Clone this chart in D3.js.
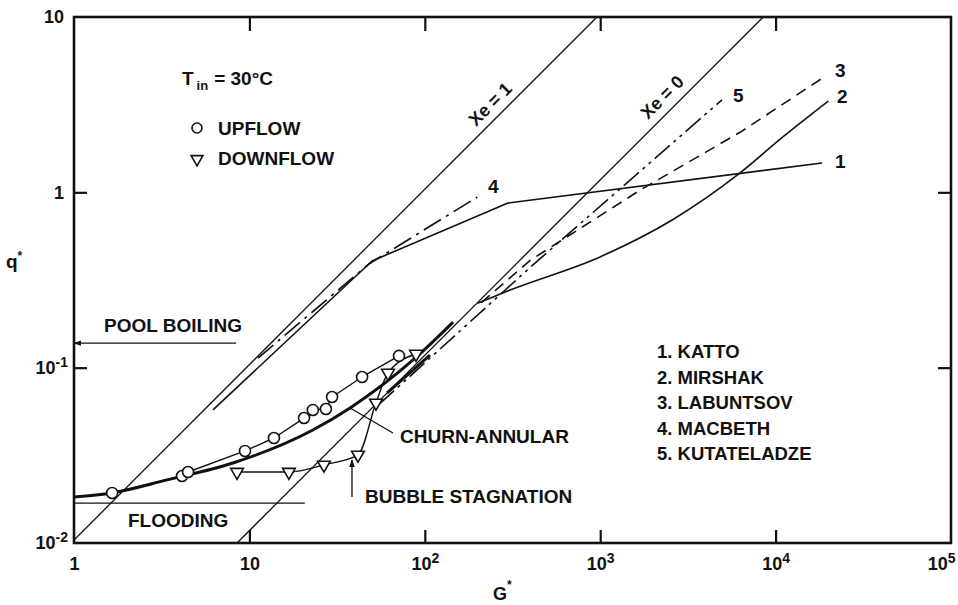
<!DOCTYPE html>
<html>
<head>
<meta charset="utf-8">
<script src="https://cdn.jsdelivr.net/npm/d3@7"></script>
<style>
  body { margin: 0; background: #fff; }
  svg text { font-family: "Liberation Sans", Arial, Helvetica, sans-serif; font-weight: bold; fill: #111; }
</style>
</head>
<body>
<div id="chart"></div>
<script>
// ---- data ----
const xTicks      = [1, 10, 100, 1000, 10000, 100000];
const xTickLabels = [['1', ''], ['10', ''], ['10', '2'], ['10', '3'], ['10', '4'], ['10', '5']];
const yTicks      = [0.01, 0.1, 1, 10];
const yTickLabels = [['10', '-2'], ['10', '-1'], ['1', ''], ['10', '']];

const upflowG   = [1.65, 4.13, 4.47, 9.44, 13.8, 20.5, 23.0, 27.3, 29.6, 43.9, 71.3];
const upflowQ   = [0.0193, 0.0241, 0.0254, 0.0335, 0.0397, 0.0516, 0.0574, 0.0581, 0.068, 0.0885, 0.1167];
const downflowG = [8.5, 16.8, 26.6, 41.6, 52.7, 61.7, 89.1];
const downflowQ = [0.0254, 0.0254, 0.0279, 0.0318, 0.063, 0.0933, 0.1197];

const churnG = [1, 1.65, 3.39, 8.06, 23.0, 37.5, 85.7, 145];
const churnQ = [0.0183, 0.0193, 0.0229, 0.0286, 0.0441, 0.0589, 0.1106, 0.182];

const xe1G = [1, 959];
const xe1Q = [0.0104, 10];
const xe0G = [8.5, 8500];
const xe0Q = [0.01, 10];

const kattoG       = [6.2, 50, 298, 18400];
const kattoQ       = [0.0574, 0.406, 0.87, 1.47];
const mirshakG     = [200, 245, 306, 998, 2600, 6270, 11000, 20000];
const mirshakQ     = [0.233, 0.253, 0.277, 0.428, 0.70, 1.29, 2.07, 3.32];
const labuntsovG   = [210, 400, 1690, 6270, 18600];
const labuntsovQ   = [0.235, 0.41, 1.03, 2.2, 4.5];
const macbethG     = [11.2, 48, 199];
const macbethQ     = [0.1135, 0.39, 0.94];
const kutateladzeG = [55, 414, 4950];
const kutateladzeQ = [0.062, 0.386, 3.37];
const kutaSolidG   = [61, 107];
const kutaSolidQ   = [0.0718, 0.118];

const poolBoilingG = [1, 8.4];
const poolBoilingQ = [0.138, 0.138];
const floodingG    = [1, 20.7];
const floodingQ    = [0.0169, 0.0169];

const correlations = ['1. KATTO', '2. MIRSHAK', '3. LABUNTSOV', '4. MACBETH', '5. KUTATELADZE'];

// ---- layout ----
const W = 958, H = 605;
const X0 = 74, X1 = 951, Y0 = 543, Y1 = 17;
const INK = '#111';

const svg = d3.select('#chart').append('svg')
    .attr('width', W).attr('height', H);

const x = d3.scaleLog().domain([1, 1e5]).range([X0, X1]);
const y = d3.scaleLog().domain([0.01, 10]).range([Y0, Y1]);

const zip = (gs, qs) => gs.map((g, i) => [g, qs[i]]);
const line = d3.line().x(d => x(d[0])).y(d => y(d[1]));
const smooth = d3.line().x(d => x(d[0])).y(d => y(d[1])).curve(d3.curveMonotoneX);

svg.append('defs').append('marker')
    .attr('id', 'arrow').attr('viewBox', '0 0 10 10')
    .attr('refX', 9).attr('refY', 5)
    .attr('markerWidth', 8).attr('markerHeight', 8)
    .attr('markerUnits', 'userSpaceOnUse')
    .attr('orient', 'auto-start-reverse')
    .append('path').attr('d', 'M0,1.5 L10,5 L0,8.5 Z').attr('fill', INK);

const plot = svg.append('g');

function drawLine(data, opts) {
    return plot.append('path')
        .attr('d', (opts.curve ? smooth : line)(data))
        .attr('fill', 'none')
        .attr('stroke', INK)
        .attr('stroke-width', opts.w || 1.5)
        .attr('stroke-dasharray', opts.dash || null)
        .attr('stroke-linejoin', 'round');
}

// reference lines
drawLine(zip(xe1G, xe1Q), { w: 1.3 });
drawLine(zip(xe0G, xe0Q), { w: 1.3 });
drawLine(zip(floodingG, floodingQ), { w: 1.3 });
drawLine(zip(poolBoilingG, poolBoilingQ), { w: 1.3 })
    .attr('marker-start', 'url(#arrow)');

// correlations
drawLine(zip(kattoG, kattoQ), { w: 1.6 });
drawLine(zip(mirshakG, mirshakQ), { w: 1.6, curve: true });
drawLine(zip(labuntsovG, labuntsovQ), { w: 1.6, dash: '11,7' });
drawLine(zip(macbethG, macbethQ), { w: 1.7, dash: '20,6,3,6' });
drawLine(zip(kutateladzeG, kutateladzeQ), { w: 1.6, dash: '20,5,3,5,3,5' });
drawLine(zip(kutaSolidG, kutaSolidQ), { w: 3 });

// churn-annular boundary
drawLine(zip(churnG, churnQ), { w: 3, curve: true });

// experiment series
const up = zip(upflowG, upflowQ);
const down = zip(downflowG, downflowQ);
drawLine(up, { w: 1.4 });
drawLine(down, { w: 1.4, curve: true });

plot.selectAll('.up').data(up).enter().append('circle')
    .attr('class', 'up')
    .attr('cx', d => x(d[0])).attr('cy', d => y(d[1])).attr('r', 5.5)
    .attr('fill', '#fff').attr('stroke', INK).attr('stroke-width', 1.6);

const tri = d3.symbol().type(d3.symbolTriangle).size(70);
plot.selectAll('.down').data(down).enter().append('path')
    .attr('class', 'down')
    .attr('d', tri)
    .attr('transform', d => `translate(${x(d[0])},${y(d[1])}) rotate(180)`)
    .attr('fill', '#fff').attr('stroke', INK).attr('stroke-width', 1.6);

// ---- frame and axes ----
svg.append('rect')
    .attr('x', X0).attr('y', Y1).attr('width', X1 - X0).attr('height', Y0 - Y1)
    .attr('fill', 'none').attr('stroke', INK).attr('stroke-width', 2.6);

function supLabels(g, labels, left) {
    g.selectAll('.tick text').each(function (d, i) {
        const t = d3.select(this).text(null).style('font-size', '18px');
        const [base, exp] = labels[i];
        t.append('tspan').text(base);
        if (exp) t.append('tspan').attr('dy', '-0.5em').style('font-size', '14px').text(exp);
        else if (left) t.attr('dx', -4);
    });
}

const tidy = (g, ends) => {
    g.select('.domain').remove();
    g.selectAll('.tick line').attr('stroke', INK).attr('stroke-width', 2.2);
    g.selectAll('.tick').filter(d => ends.includes(d)).select('line').remove();
};

const gx = svg.append('g').attr('transform', `translate(0,${Y0})`)
    .call(d3.axisBottom(x).tickValues(xTicks).tickSize(-13).tickPadding(14));
tidy(gx, [1, 1e5]);
supLabels(gx, xTickLabels, false);
// last label sits flush against the right edge, as in the figure
gx.selectAll('.tick text').filter(d => d === 1e5)
    .attr('text-anchor', 'end').attr('dx', 4);

const gxTop = svg.append('g').attr('transform', `translate(0,${Y1})`)
    .call(d3.axisTop(x).tickValues(xTicks).tickSize(-14).tickFormat(''));
tidy(gxTop, [1, 1e5]);

const gy = svg.append('g').attr('transform', `translate(${X0},0)`)
    .call(d3.axisLeft(y).tickValues(yTicks).tickSize(-13).tickPadding(6));
tidy(gy, [0.01, 10]);
supLabels(gy, yTickLabels, true);

const gyR = svg.append('g').attr('transform', `translate(${X1},0)`)
    .call(d3.axisRight(y).tickValues(yTicks).tickSize(-13).tickFormat(''));
tidy(gyR, [0.01, 10]);

// axis titles
const gTitle = svg.append('text').attr('x', 493).attr('y', 600).style('font-size', '18px');
gTitle.append('tspan').text('G');
gTitle.append('tspan').attr('dy', -11).style('font-size', '12px').text('*');
const qTitle = svg.append('text').attr('x', 6).attr('y', 268).style('font-size', '19px');
qTitle.append('tspan').text('q');
qTitle.append('tspan').attr('dy', -8).style('font-size', '12px').text('*');

// ---- annotations ----
const ann = svg.append('g').style('font-size', '19px');

const tin = ann.append('text').attr('x', 182).attr('y', 85);
tin.append('tspan').text('T');
tin.append('tspan').attr('dx', 3).attr('dy', 5).style('font-size', '13px').text('in');
tin.append('tspan').attr('dx', 6).attr('dy', -5).text('= 30°C');

ann.append('circle').attr('cx', 197).attr('cy', 128).attr('r', 5)
    .attr('fill', '#fff').attr('stroke', INK).attr('stroke-width', 1.6);
ann.append('text').attr('x', 218).attr('y', 135).text('UPFLOW');
ann.append('path').attr('d', d3.symbol().type(d3.symbolTriangle).size(60))
    .attr('transform', 'translate(197,159) rotate(180)')
    .attr('fill', '#fff').attr('stroke', INK).attr('stroke-width', 1.6);
ann.append('text').attr('x', 218).attr('y', 165).text('DOWNFLOW');

ann.append('text').attr('x', 104).attr('y', 332).text('POOL BOILING');
ann.append('text').attr('x', 128).attr('y', 527).text('FLOODING');

ann.append('text').attr('x', 400).attr('y', 443).text('CHURN-ANNULAR');
ann.append('line')
    .attr('x1', x(churnG[5])).attr('y1', y(churnQ[5]))
    .attr('x2', 393).attr('y2', 433)
    .attr('stroke', INK).attr('stroke-width', 1.3);

ann.append('text').attr('x', 365).attr('y', 503).text('BUBBLE STAGNATION');
ann.append('line')
    .attr('x1', x(downflowG[3]) - 6).attr('y1', 497)
    .attr('x2', x(downflowG[3]) - 6).attr('y2', y(downflowQ[3]) + 5)
    .attr('stroke', INK).attr('stroke-width', 1.3)
    .attr('marker-end', 'url(#arrow)');

ann.append('text').attr('transform', 'translate(490,104) rotate(-45)')
    .attr('text-anchor', 'middle').attr('dy', '0.35em').style('font-size', '18px').text('Xe = 1');
ann.append('text').attr('transform', 'translate(662,97) rotate(-45)')
    .attr('text-anchor', 'middle').attr('dy', '0.35em').style('font-size', '18px').text('Xe = 0');

[['1', 835, 168], ['2', 837, 103], ['3', 835, 77], ['4', 488, 193], ['5', 733, 102]]
    .forEach(([t, px, py]) => ann.append('text').attr('x', px).attr('y', py).text(t));

ann.selectAll('.corr').data(correlations).enter().append('text')
    .attr('class', 'corr')
    .attr('x', 657).attr('y', (d, i) => 358 + i * 25.5)
    .style('font-size', '18.5px')
    .text(d => d);
</script>
</body>
</html>
